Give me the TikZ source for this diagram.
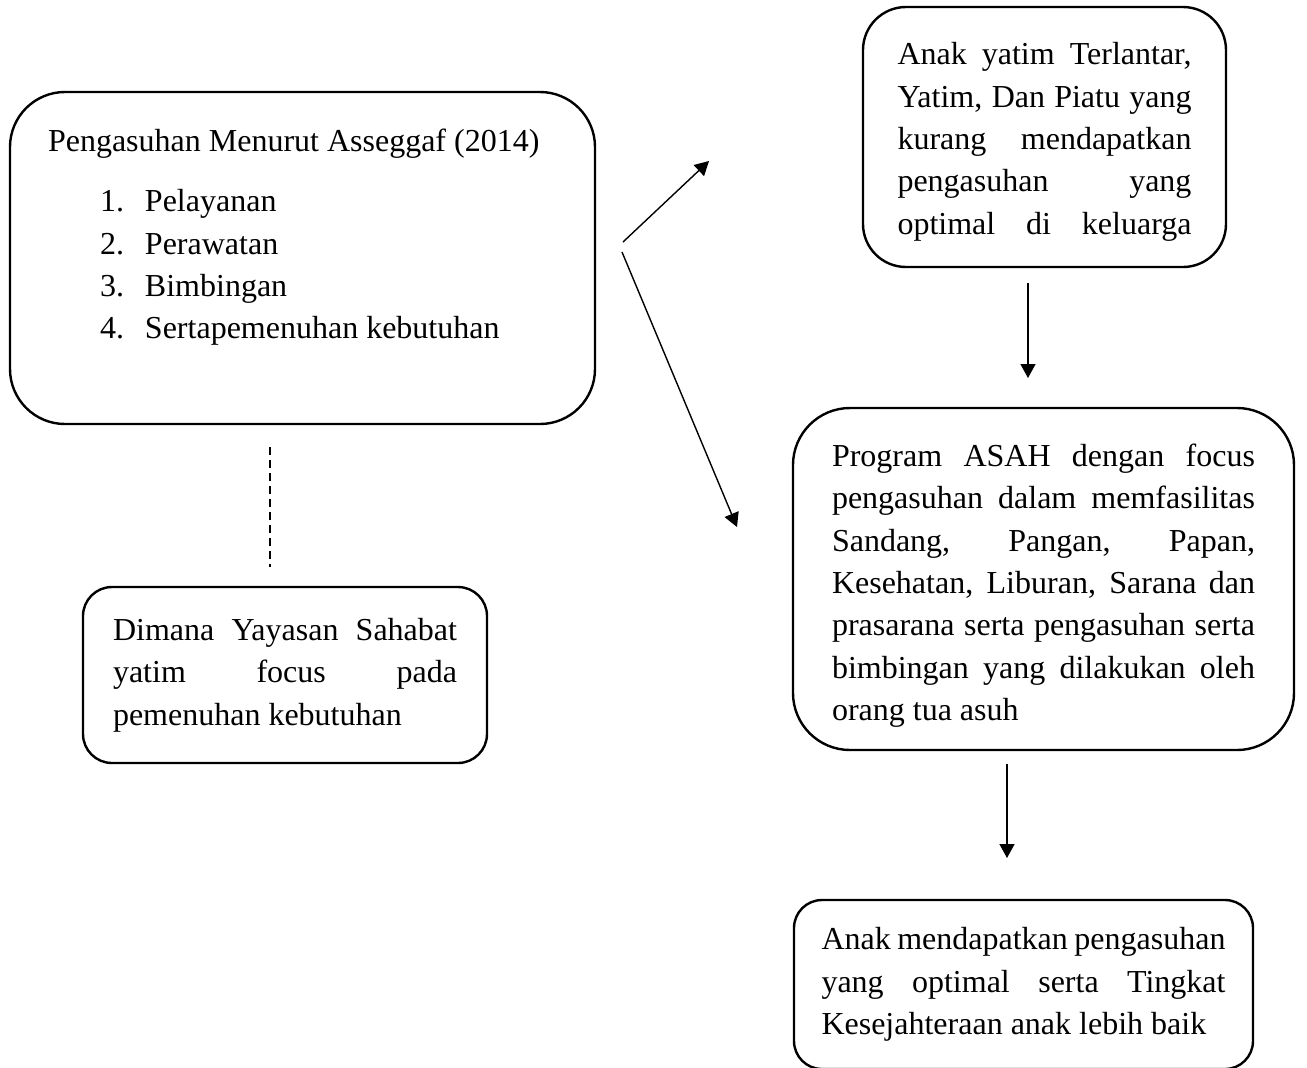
\documentclass[tikz,border=0pt]{standalone}
\usepackage{fontspec}
\setmainfont{Liberation Serif}
\usetikzlibrary{arrows.meta, positioning}
\newcommand{\jline}[1]{\leavevmode\hbox to\hsize{#1}}
\newcommand{\butir}[1]{\hspace*{26pt}\makebox[22.5pt][l]{#1.}}

\begin{document}
\begin{tikzpicture}[
  x=0.5pt, y=-0.5pt,
  font=\fontsize{16pt}{21.2pt}\selectfont,
  >={Triangle[length=7pt,width=7.5pt]},
  box/.style={
    rectangle, draw=black, line width=1.2pt, align=justify,
    inner ysep=0pt
  },
  arr/.style={->, line width=0.7pt, color=black},
  dashln/.style={line width=1pt, dash pattern=on 4pt off 2.5pt},
]
\useasboundingbox (0,0) rectangle (1307,1067);
%% Boxes
\node[box, rounded corners=27.5pt, text width=254.5pt, inner xsep=19pt,
  minimum height=166pt] (asuh) at (302.5,258)
  {Pengasuhan Menurut Asseggaf (2014)\\[9pt]
   \butir{1}Pelayanan\\
   \butir{2}Perawatan\\
   \butir{3}Bimbingan\\
   \butir{4}Sertapemenuhan kebutuhan\\[3pt]\mbox{}};
\node[box, rounded corners=21.5pt, text width=147pt, inner xsep=17.25pt,
  minimum height=130pt] (yatim) at (1044.5,137)
  {\jline{\rule{0pt}{16pt}Anak yatim Terlantar,}\\
   \jline{Yatim, Dan Piatu yang}\\
   \jline{kurang mendapatkan}\\
   \jline{pengasuhan yang}\\
   \jline{optimal di keluarga}};
\node[box, rounded corners=28.5pt, text width=211.5pt, inner xsep=19.5pt,
  minimum height=171pt] (asah) at (1043.5,579)
  {\jline{\rule{0pt}{18pt}Program ASAH dengan focus}\\
   \jline{pengasuhan dalam memfasilitas}\\
   \jline{Sandang, Pangan, Papan,}\\
   \jline{Kesehatan, Liburan, Sarana dan}\\
   \jline{prasarana serta pengasuhan serta}\\
   \jline{bimbingan yang dilakukan oleh}\\
   orang tua asuh};
\node[box, rounded corners=14pt, text width=202pt, inner xsep=13.75pt,
  minimum height=84.5pt] (hasil) at (1023.5,984.5)
  {\jline{Anak mendapatkan pengasuhan}\\
   \jline{yang optimal serta Tingkat}\\
   Kesejahteraan anak lebih baik};
\node[box, rounded corners=14.5pt, text width=172pt, inner xsep=15pt,
  minimum height=88pt] (yayasan) at (285,675)
  {\jline{Dimana Yayasan Sahabat}\\
   \jline{yatim focus pada}\\
   pemenuhan kebutuhan};
%% Connector ends
\coordinate (p1) at (623,242);  \coordinate (q1) at (709,161);
\coordinate (p2) at (622,252);  \coordinate (q2) at (737,527);
\coordinate (p3) at (1028,283); \coordinate (q3) at (1028,378);
\coordinate (p4) at (1007,764); \coordinate (q4) at (1007,858);
\coordinate (p5) at (270,447);  \coordinate (q5) at (270,567);
%% Arrows
\draw[arr] (p1) -- (q1);
\draw[arr] (p2) -- (q2);
\draw[arr] (p3) -- (q3);
\draw[arr] (p4) -- (q4);
\draw[dashln] (p5) -- (q5);
\end{tikzpicture}
\end{document}
